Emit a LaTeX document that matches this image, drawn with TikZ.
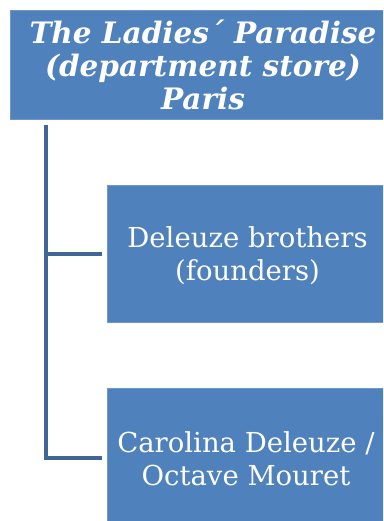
\documentclass[tikz,border=0pt]{standalone}
\usepackage{fontspec}
\setmainfont{DejaVu Serif}
\definecolor{boxblue}{HTML}{4F81BD}
\definecolor{linkblue}{HTML}{3F6697}
\definecolor{edgeblue}{HTML}{6F97C9}
\begin{document}
\begin{tikzpicture}[x=1pt,y=-1pt,
  box/.style={fill=boxblue, draw=edgeblue, line width=0.8pt, text=white, align=center, inner sep=0pt},
  label/.style={text=white, align=center, font=\fontsize{27.5}{33}\selectfont},
  link/.style={draw=linkblue, line width=4pt, line cap=butt}]
\useasboundingbox (0,0) rectangle (383,521);
\begin{scope}
\clip (0,0) rectangle (383,521);
\node[box, minimum width=380pt, minimum height=109pt, anchor=north west] (root) at (10,10) {};
\node[box, minimum width=284pt, minimum height=137pt, anchor=north west] (c1) at (107,185) {};
\node[box, minimum width=284pt, minimum height=140pt, anchor=north west] (c2) at (107,388) {};
\end{scope}
\node[label, font=\fontsize{29.5}{33}\selectfont\bfseries\itshape] (t0) at (203,65)
  {The Ladies´ Paradise\\(department store)\\Paris};
\node[label] (t1) at (247.5,255.5) {Deleuze brothers\\(founders)};
\node[label] (t2) at (246,459) {Carolina Deleuze /\\Octave Mouret};
\coordinate (top) at (46,125);
\coordinate (j1) at (46,254);
\coordinate (j2) at (46,458);
\coordinate (e1) at (102,254);
\coordinate (e2) at (102,458);
\draw[link] (top) -- ([yshift=2pt]j2);
\draw[link] ([xshift=-2pt]j2) -- (e2);
\draw[link] (j1) -- (e1);
\end{tikzpicture}
\end{document}
